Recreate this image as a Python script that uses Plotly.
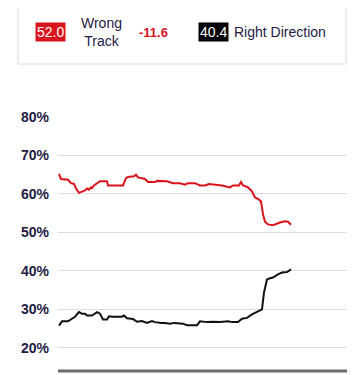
import plotly.graph_objects as go

# Day index (x) and values (%)
wrong_day = [1, 3, 10, 13, 16, 18, 21, 24, 27, 29, 31, 33, 34, 36, 39, 42, 49, 50, 65, 68, 70, 76, 78, 80,
             87, 90, 97, 99, 109, 115, 122, 127, 130, 137, 142, 147, 151, 164, 172, 175, 181, 183, 185,
             190, 194, 197, 200, 203, 205, 207, 210, 215, 222, 227, 230, 233]
wrong_val = [65.2, 63.9, 63.7, 62.8, 62.6, 61.4, 60.3, 60.7, 60.9, 61.4, 61.1, 61.7, 61.5, 62.2, 62.8, 63.3,
             63.3, 62.2, 62.2, 64.1, 64.4, 64.6, 65.0, 64.3, 63.9, 63.1, 63.1, 63.4, 63.3, 62.8, 62.8,
             62.4, 62.8, 62.8, 62.2, 62.2, 62.6, 62.2, 61.7, 62.2, 62.2, 63.1, 62.2, 61.7, 60.7, 59.1,
             58.7, 58.1, 54.7, 52.8, 52.1, 51.9, 52.6, 52.9, 52.8, 52.0]

right_day = [1, 4, 10, 14, 17, 21, 24, 27, 29, 34, 36, 39, 42, 45, 49, 51, 55, 64, 66, 69, 75, 79, 84, 89,
             94, 97, 103, 107, 112, 116, 125, 129, 139, 142, 149, 155, 162, 170, 174, 180, 184, 189, 194,
             199, 204, 206, 209, 212, 215, 220, 224, 229, 233]
right_val = [25.8, 26.9, 26.9, 27.5, 28.1, 29.3, 28.9, 28.9, 28.4, 28.4, 28.7, 29.3, 28.9, 27.4, 27.4, 28.2,
             28.1, 28.1, 28.4, 27.7, 27.5, 26.8, 27.0, 26.5, 27.0, 26.7, 26.5, 26.5, 26.3, 26.5, 26.3,
             25.9, 25.9, 26.9, 26.7, 26.8, 26.7, 26.9, 26.7, 26.7, 27.6, 27.8, 28.7, 29.4, 30.0, 34.4,
             37.8, 38.1, 38.3, 39.1, 39.6, 39.7, 40.4]

y_ticks = [20, 30, 40, 50, 60, 70, 80]
y_tick_text = ["20%", "30%", "40%", "50%", "60%", "70%", "80%"]
wrong_label = "52.0"
right_label = "40.4"
net_label = "-11.6"

RED = "#d9141c"
DARK = "#241a44"
FONT = "Liberation Sans"
OFF = 8  # page body margin
W, H = 364 - OFF, 375 - OFF
B = 4
PH = H - B

def px(x):
    return (x - OFF) / W

def py(y):
    return (PH - (y - OFF)) / PH

fig = go.Figure()
fig.add_trace(go.Scatter(x=wrong_day, y=wrong_val, mode="lines",
                         line=dict(color=RED, width=2), hoverinfo="skip"))
fig.add_trace(go.Scatter(x=right_day, y=right_val, mode="lines",
                         line=dict(color="#111111", width=2), hoverinfo="skip"))

fig.update_layout(
    width=W, height=H,
    margin=dict(l=0, r=0, t=0, b=B, pad=0),
    paper_bgcolor="white", plot_bgcolor="white",
    showlegend=False,
    xaxis=dict(domain=[px(58), px(347)], range=[0, 289], showgrid=False, zeroline=False,
               showticklabels=False, ticks="", showline=False, fixedrange=True),
    yaxis=dict(domain=[0, py(117)], range=[14.0, 80], tickvals=y_ticks, ticktext=y_tick_text,
               showgrid=True, gridcolor="#dddddd", gridwidth=1, zeroline=False,
               showline=False, ticks="", ticklabelstandoff=8, automargin=False,
               tickfont=dict(family=FONT, size=14, color=DARK, weight="bold")),
    font=dict(family=FONT, color=DARK),
)

# bottom axis line
fig.add_shape(type="line", xref="paper", yref="paper", x0=px(58), x1=px(347),
              y0=py(371), y1=py(371), line=dict(color="#6b6b6b", width=3))

# legend box
fig.add_shape(type="rect", xref="paper", yref="paper", x0=px(18), x1=px(346),
              y0=py(64), y1=py(-5), line=dict(color="#dadada", width=1), fillcolor="rgba(0,0,0,0)")

ann = dict(xref="paper", yref="paper", showarrow=False, xanchor="center", yanchor="middle")
fig.add_annotation(x=px(50.5), y=py(32), text=wrong_label, bgcolor=RED, borderpad=1,
                   font=dict(family=FONT, size=14, color="white"), **ann)
fig.add_annotation(x=px(101.5), y=py(31.5), text="Wrong<br>Track", align="center",
                   font=dict(family=FONT, size=14, color=DARK), **ann)
fig.add_annotation(x=px(153), y=py(32), text=net_label,
                   font=dict(family=FONT, size=13, color=RED, weight="bold"), **ann)
fig.add_annotation(x=px(213.5), y=py(32), text=right_label, bgcolor="#000000", borderpad=1,
                   font=dict(family=FONT, size=14, color="white"), **ann)
fig.add_annotation(xref="paper", yref="paper", x=px(232), y=py(32), xanchor="left", yanchor="middle",
                   text="Right Direction", showarrow=False,
                   font=dict(family=FONT, size=14, color=DARK))

fig.write_html("out.html", config={"displayModeBar": False})
